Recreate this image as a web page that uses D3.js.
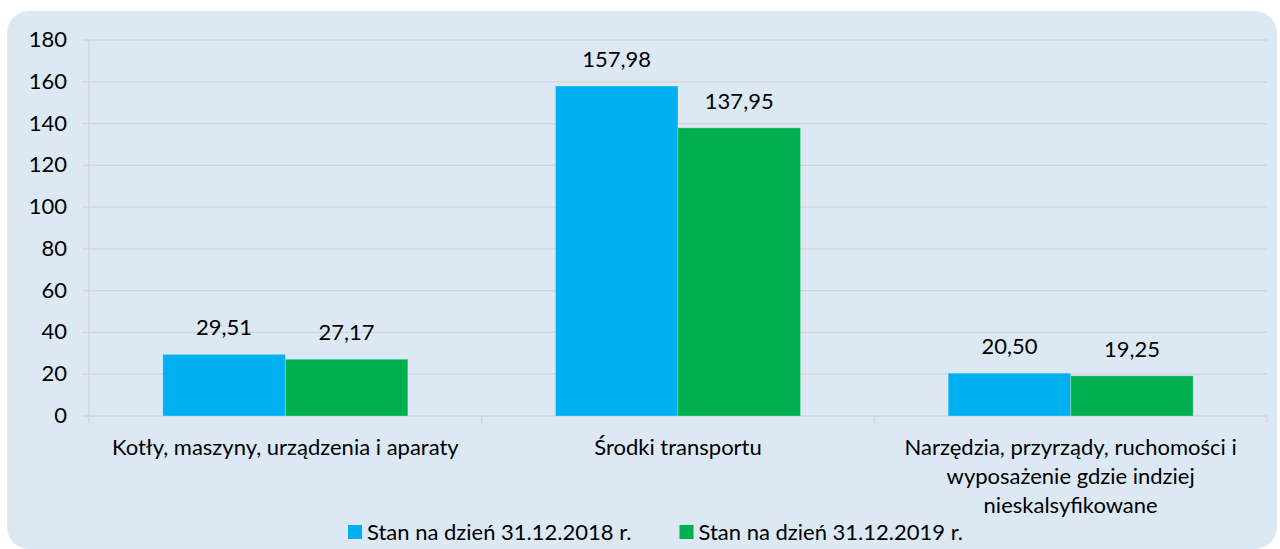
<!DOCTYPE html>
<html>
<head>
    <meta charset="utf-8">
    <title></title>
    <style>
        body { margin: 0; background: #fff; }
        text {
            font-family: Lato, sans-serif;
            fill: #000;
        }
    </style>
</head>
<body>
    <script src="https://cdn.jsdelivr.net/npm/d3@7"></script>
    <script>
        var categories = [
            ["Kotły, maszyny, urządzenia i aparaty"],
            ["Środki transportu"],
            ["Narzędzia, przyrządy, ruchomości i", "wyposażenie gdzie indziej", "nieskalsyfikowane"]
        ];
        var seriesNames = ["Stan na dzień 31.12.2018 r.", "Stan na dzień 31.12.2019 r."];
        var values2018 = [29.51, 157.98, 20.50];
        var values2019 = [27.17, 137.95, 19.25];
        var yTicks = [0, 20, 40, 60, 80, 100, 120, 140, 160, 180];
        var colors = ["#00b0f0", "#00b050"];

        var width = 1280,
            height = 549;
        var plotLeft = 89, plotRight = 1267, plotTop = 40, plotBottom = 416;
        var fontSize = "22px";

        var svg = d3.select("body").append("svg")
            .attr("width", width)
            .attr("height", height);

        // panel background
        svg.append("rect")
            .attr("x", 7)
            .attr("y", 11)
            .attr("width", 1270)
            .attr("height", 538)
            .attr("rx", 22)
            .attr("fill", "#dce9f5");

        var x0 = d3.scaleBand()
            .domain(d3.range(categories.length))
            .range([plotLeft, plotRight]);
        var x1 = d3.scaleBand()
            .domain([0, 1])
            .range([x0.bandwidth() * 0.188, x0.bandwidth() * 0.812]);
        var y = d3.scaleLinear()
            .domain([0, 180])
            .range([plotBottom, plotTop]);

        // gridlines
        svg.append("g")
            .selectAll("line")
            .data(yTicks)
            .enter().append("line")
            .attr("x1", plotLeft - 7)
            .attr("x2", plotRight)
            .attr("y1", function(d) { return y(d); })
            .attr("y2", function(d) { return y(d); })
            .attr("stroke", "#d4d4d4")
            .attr("stroke-width", 1.3);

        // y axis line
        svg.append("line")
            .attr("x1", plotLeft).attr("x2", plotLeft)
            .attr("y1", plotTop).attr("y2", plotBottom + 7)
            .attr("stroke", "#d4d4d4")
            .attr("stroke-width", 1.3);

        // category separator ticks
        svg.append("g")
            .selectAll("line")
            .data(d3.range(categories.length))
            .enter().append("line")
            .attr("x1", function(d) { return x0(d) + x0.bandwidth(); })
            .attr("x2", function(d) { return x0(d) + x0.bandwidth(); })
            .attr("y1", plotBottom)
            .attr("y2", plotBottom + 7)
            .attr("stroke", "#d4d4d4")
            .attr("stroke-width", 1.3);

        // y tick labels
        svg.append("g")
            .selectAll("text")
            .data(yTicks)
            .enter().append("text")
            .attr("x", 67)
            .attr("y", function(d) { return y(d) + 7; })
            .attr("text-anchor", "end")
            .style("font-size", fontSize)
            .text(function(d) { return d; });

        var fmt = function(v) { return v.toFixed(2).replace(".", ","); };

        var groups = svg.append("g")
            .selectAll("g")
            .data(d3.range(categories.length))
            .enter().append("g")
            .attr("transform", function(i) { return "translate(" + x0(i) + ",0)"; });

        var bars = groups.selectAll("rect")
            .data(function(i) { return [values2018[i], values2019[i]]; })
            .enter();

        bars.append("rect")
            .attr("x", function(d, j) { return x1(j); })
            .attr("y", function(d) { return y(d); })
            .attr("width", x1.bandwidth())
            .attr("height", function(d) { return plotBottom - y(d); })
            .attr("fill", function(d, j) { return colors[j]; })
            .attr("stroke", "rgba(255,255,255,0.25)")
            .attr("stroke-width", 1);

        bars.append("text")
            .attr("x", function(d, j) { return x1(j) + x1.bandwidth() / 2; })
            .attr("y", function(d) { return y(d) - 19; })
            .attr("text-anchor", "middle")
            .style("font-size", fontSize)
            .text(function(d) { return fmt(d); });

        // category labels
        groups.each(function(i) {
            var t = d3.select(this).append("text")
                .attr("text-anchor", "middle")
                .style("font-size", fontSize);
            categories[i].forEach(function(line, k) {
                t.append("tspan")
                    .attr("x", x0.bandwidth() / 2)
                    .attr("y", 455 + k * 28.8)
                    .text(line);
            });
        });

        // legend
        var lx = 348;
        seriesNames.forEach(function(name, j) {
            svg.append("rect")
                .attr("x", lx)
                .attr("y", 525)
                .attr("width", 14)
                .attr("height", 14)
                .attr("fill", colors[j]);
            var t = svg.append("text")
                .attr("x", lx + 19)
                .attr("y", 540)
                .style("font-size", fontSize)
                .text(name);
            lx += 19 + t.node().getComputedTextLength() + 48;
        });
    </script>
</body>
</html>
